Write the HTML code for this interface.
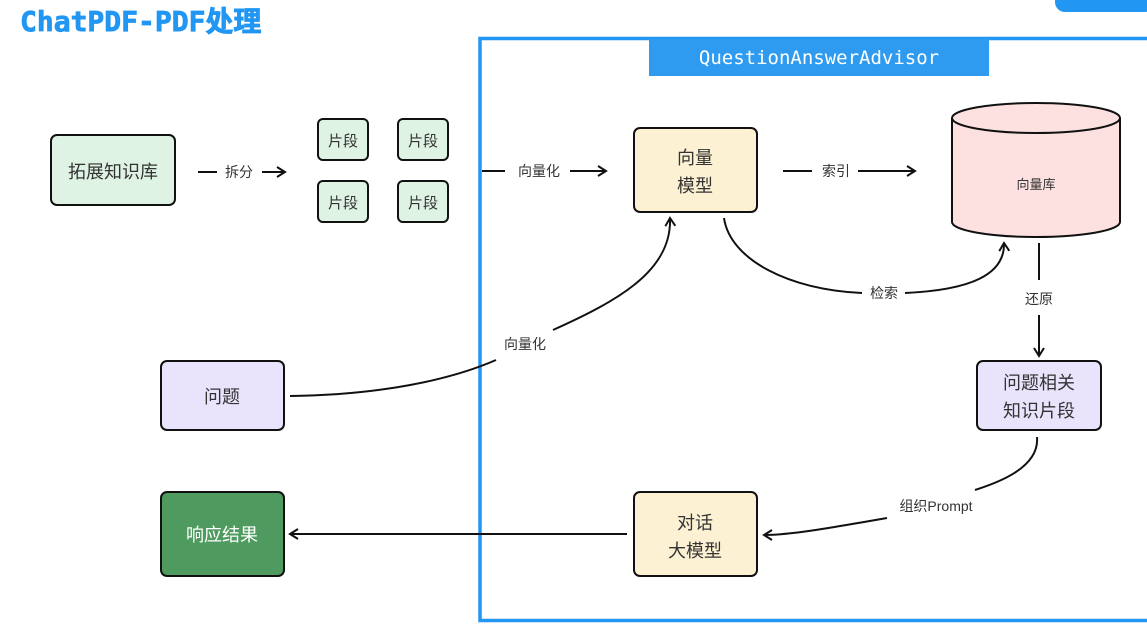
<!DOCTYPE html>
<html><head><meta charset="utf-8"><style>
body{margin:0;background:#fff;width:1147px;height:626px;overflow:hidden}
svg text{font-family:"Liberation Sans","Noto Sans CJK SC",sans-serif;fill:#333}
</style></head><body>
<svg width="1147" height="626" viewBox="0 0 1147 626" xmlns="http://www.w3.org/2000/svg">
<defs><marker id="a" markerWidth="12" markerHeight="12" refX="9" refY="6" orient="auto" markerUnits="userSpaceOnUse"><path d="M1,1 L9,6 L1,11" fill="none" stroke="#111" stroke-width="2"/></marker></defs>
<text x="20" y="31" font-size="28" font-weight="bold" style="fill:#2196f3;stroke:#2196f3;stroke-width:0.8;font-family:'DejaVu Sans Mono','Noto Sans CJK SC',monospace">ChatPDF-PDF处理</text>
<rect x="1055" y="-10" width="100" height="22" rx="10" fill="#2196f3"/>
<rect x="480" y="38.5" width="680" height="582" fill="none" stroke="#2196f3" stroke-width="3.5"/>
<rect x="649" y="39" width="340" height="37" fill="#2f9bf0"/>
<text x="819" y="64" font-size="19" text-anchor="middle" style="fill:#fff;font-family:'DejaVu Sans Mono',monospace">QuestionAnswerAdvisor</text>
<g stroke="#111" stroke-width="2">
<rect x="51" y="135" width="124" height="70" rx="6" fill="#dff3e4"/>
<rect x="318" y="119" width="50" height="41" rx="5" fill="#dff3e4"/>
<rect x="398" y="119" width="50" height="41" rx="5" fill="#dff3e4"/>
<rect x="318" y="181" width="50" height="41" rx="5" fill="#dff3e4"/>
<rect x="398" y="181" width="50" height="41" rx="5" fill="#dff3e4"/>
<rect x="634" y="128" width="123" height="84" rx="6" fill="#fdf1d3"/>
<path d="M952,118 L952,222 A84,15 0 0 0 1120,222 L1120,118" fill="#fde0e0"/>
<ellipse cx="1036" cy="118" rx="84" ry="15" fill="#fde0e0"/>
<rect x="977" y="361" width="124" height="69" rx="6" fill="#e9e3fb"/>
<rect x="161" y="361" width="123" height="69" rx="6" fill="#e9e3fb"/>
<rect x="634" y="492" width="123" height="84" rx="6" fill="#fdf1d3"/>
<rect x="161" y="492" width="123" height="84" rx="6" fill="#4e9a5f"/>
</g>
<g font-size="18" text-anchor="middle">
<text x="113" y="178">拓展知识库</text>
<text x="343" y="146" font-size="15">片段</text><text x="423" y="146" font-size="15">片段</text>
<text x="343" y="208" font-size="15">片段</text><text x="423" y="208" font-size="15">片段</text>
<text x="695" y="164">向量</text><text x="695" y="192">模型</text>
<text x="1036" y="189" font-size="13">向量库</text>
<text x="1039" y="389">问题相关</text><text x="1039" y="417">知识片段</text>
<text x="222" y="403">问题</text>
<text x="695" y="529">对话</text><text x="695" y="557">大模型</text>
<text x="222" y="541" style="fill:#fff">响应结果</text>
</g>
<g fill="none" stroke="#111" stroke-width="2">
<path d="M198,172 H217"/><path d="M262,172 H285" marker-end="url(#a)"/>
<path d="M482,171 H505"/><path d="M570,171 H606" marker-end="url(#a)"/>
<path d="M783,171 H812"/><path d="M858,171 H915" marker-end="url(#a)"/>
<path d="M1039,243 V280"/><path d="M1039,315 V356" marker-end="url(#a)"/>
<path d="M724,218 C730,260 790,290 862,293"/>
<path d="M905,293 C970,290 1005,275 1004,243" marker-end="url(#a)"/>
<path d="M290,396 C380,395 450,380 496,360"/>
<path d="M553,330 C620,300 672,270 670,218" marker-end="url(#a)"/>
<path d="M1037,437 C1040,470 990,485 975,490"/>
<path d="M887,518 C830,528 790,535 764,535" marker-end="url(#a)"/>
<path d="M627,534 H290" marker-end="url(#a)"/>
</g>
<g font-size="14" text-anchor="middle">
<text x="239" y="177">拆分</text>
<text x="539" y="176">向量化</text>
<text x="836" y="176">索引</text>
<text x="884" y="298">检索</text>
<text x="1039" y="304">还原</text>
<text x="525" y="349">向量化</text>
<text x="936" y="511">组织Prompt</text>
</g>
</svg>
</body></html>
